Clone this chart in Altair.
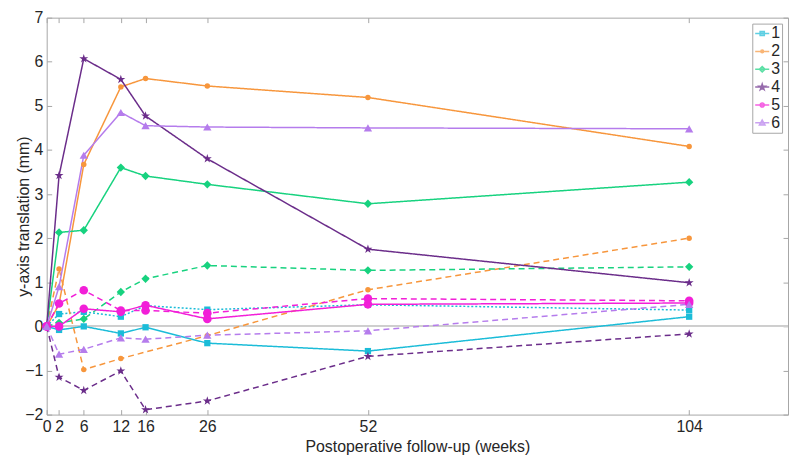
import altair as alt
import pandas as pd

weeks = [0, 2, 6, 12, 16, 26, 52, 104]
series_ids = ["1", "2", "3", "4", "5", "6"]

s1_solid = [0, -0.08, 0.0, -0.16, -0.02, -0.38, -0.56, 0.22]
s1_dotted = [0, 0.28, 0.33, 0.22, 0.47, 0.38, 0.49, 0.37]
s2_solid = [0, 0.5, 3.67, 5.43, 5.62, 5.45, 5.19, 4.08]
s2_dashed = [0, 1.3, -0.98, -0.73, None, -0.21, 0.83, 2.0]
s3_solid = [0, 2.13, 2.18, 3.6, 3.41, 3.22, 2.78, 3.27]
s3_dashed = [0, 0.08, 0.17, 0.78, 1.08, 1.38, 1.27, 1.35]
s4_solid = [0, 3.42, 6.07, 5.6, 4.77, 3.8, 1.75, 0.99]
s4_dashed = [0, -1.15, -1.45, -1.01, -1.89, -1.69, -0.68, -0.17]
s5_solid = [0, 0.0, 0.4, 0.33, 0.48, 0.17, 0.5, 0.53]
s5_dashed = [0, 0.52, 0.82, 0.36, 0.36, 0.3, 0.63, 0.58]
s6_solid = [0, 0.9, 3.88, 4.85, 4.55, 4.52, 4.5, 4.48]
s6_dashed = [0, -0.63, -0.52, -0.26, -0.29, -0.2, -0.1, 0.5]

colors = ["#1bbcd8", "#f7963c", "#17d27f", "#6b2d8a", "#f21fd8", "#b57cec"]

STAR = ("M0,-1L0.2245,-0.309L0.951,-0.309L0.363,0.118L0.588,0.809L0,0.382"
        "L-0.588,0.809L-0.363,0.118L-0.951,-0.309L-0.2245,-0.309Z")
STAR_S = ("M0,-0.45L0.101,-0.139L0.428,-0.139L0.163,0.053L0.265,0.364L0,0.172"
          "L-0.265,0.364L-0.163,0.053L-0.428,-0.139L-0.101,-0.139Z")
marker_style = {
    "1": ("square", 40),
    "2": ("circle", 30),
    "3": ("diamond", 70),
    "4": (STAR, 90),
    "5": ("circle", 75),
    "6": ("triangle-up", 70),
}
legend_paths = [
    "M-1,0L1,0M-0.3,-0.3L0.3,-0.3L0.3,0.3L-0.3,0.3Z",
    "M-1,0L1,0M-0.2,0A0.2,0.2,0,1,0,0.2,0A0.2,0.2,0,1,0,-0.2,0Z",
    "M-1,0L1,0M0,-0.4L0.4,0L0,0.4L-0.4,0Z",
    "M-1,0L1,0" + STAR_S,
    "M-1,0L1,0M-0.3,0A0.3,0.3,0,1,0,0.3,0A0.3,0.3,0,1,0,-0.3,0Z",
    "M-1,0L1,0M0,-0.4L0.4,0.3L-0.4,0.3Z",
]

groups = [
    ("1", "solid", s1_solid), ("1", "dotted", s1_dotted),
    ("2", "solid", s2_solid), ("2", "dashed", s2_dashed),
    ("3", "solid", s3_solid), ("3", "dashed", s3_dashed),
    ("4", "solid", s4_solid), ("4", "dashed", s4_dashed),
    ("5", "solid", s5_solid), ("5", "dashed", s5_dashed),
    ("6", "solid", s6_solid), ("6", "dashed", s6_dashed),
]
rows = []
for sid, style, vals in groups:
    for w, v in zip(weeks, vals):
        if v is None:
            continue
        rows.append({"week": w, "value": v, "series": sid, "style": style})
df = pd.DataFrame(rows)

FONT = "Liberation Sans"
TXT = "#262626"
GRAY = "#a6a6a6"

xscale = alt.Scale(domain=[0, 120], nice=False, zero=False)
yscale = alt.Scale(domain=[-2, 7], nice=False, zero=False)
# data-driven (sorted) domain, so the hidden colour legend does not merge with the visible one
cscale = alt.Scale(range=colors)

axis_common = dict(grid=False, domain=False, offset=-5, tickSize=5, tickColor=GRAY,
                   labelFont=FONT, labelFontSize=16, labelColor=TXT,
                   titleFont=FONT, titleFontSize=16, titleFontWeight="normal", titleColor=TXT)

xaxis = alt.Axis(values=weeks, title="Postoperative follow-up (weeks)", labelPadding=4,
                 titlePadding=4, labelFlush=False, labelOverlap=False, **axis_common)
yaxis = alt.Axis(values=list(range(-2, 8)), title="y-axis translation (mm)", labelPadding=4,
                 titlePadding=-7, **axis_common)
xaxis_top = alt.Axis(orient="top", values=weeks, labels=False, title=None, grid=False,
                     domain=False, offset=-5, tickSize=5, tickColor=GRAY)
yaxis_right = alt.Axis(orient="right", values=list(range(-2, 8)), labels=False, title=None,
                       grid=False, domain=False, offset=-5, tickSize=5, tickColor=GRAY)

zero_rule = alt.Chart(df).mark_rule(color="#cfcfcf", strokeWidth=1).encode(
    y=alt.Y(datum=0, scale=yscale, axis=None)
)

lines = alt.Chart(df).mark_line(strokeWidth=1.5).encode(
    x=alt.X("week:Q", scale=xscale, axis=xaxis),
    y=alt.Y("value:Q", scale=yscale, axis=yaxis),
    color=alt.Color("series:N", scale=cscale, legend=None),
    strokeDash=alt.StrokeDash(
        "style:N",
        scale=alt.Scale(domain=["solid", "dashed", "dotted"], range=[[1, 0], [6, 4], [2, 2]]),
        legend=None,
    ),
)

point_layers = []
for sid in series_ids:
    shape, size = marker_style[sid]
    point_layers.append(
        alt.Chart(df).transform_filter(alt.datum.series == sid)
        .mark_point(filled=True, shape=shape, size=size, opacity=1)
        .encode(
            x=alt.X("week:Q", scale=xscale, axis=None),
            y=alt.Y("value:Q", scale=yscale, axis=None),
            color=alt.Color("series:N", scale=cscale, legend=None),
        )
    )

leg = alt.Legend(
    title=None, orient="top-right", offset=6, padding=2, strokeColor=GRAY, fillColor="white",
    labelFont=FONT, labelFontSize=16, labelColor=TXT, symbolSize=200, symbolStrokeWidth=1.5,
    rowPadding=2, labelOffset=1,
)
legend_layer = alt.Chart(df).transform_filter(alt.datum.week < -50).mark_point(filled=True).encode(
    x=alt.X("week:Q", scale=xscale, axis=xaxis_top),
    y=alt.Y("value:Q", scale=yscale, axis=yaxis_right),
    fill=alt.Fill("series:N", scale=alt.Scale(domain=series_ids, range=colors), legend=leg),
    stroke=alt.Stroke("series:N", scale=alt.Scale(domain=series_ids, range=colors), legend=leg),
    shape=alt.Shape("series:N", scale=alt.Scale(domain=series_ids, range=legend_paths), legend=leg),
)

chart = alt.layer(zero_rule, lines, *point_layers, legend_layer).resolve_axis(
    x="independent", y="independent"
).properties(
    width=747, height=400, padding={"left": 7, "top": 0, "right": 0, "bottom": 0}
).configure_view(stroke=GRAY, strokeWidth=1)

chart.save("out.html", embed_options={"renderer": "svg", "actions": False})
